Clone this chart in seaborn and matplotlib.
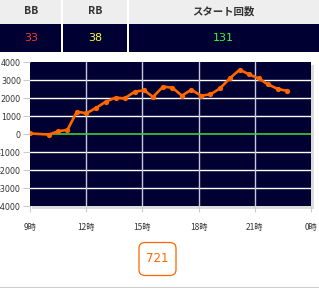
import matplotlib
matplotlib.use("Agg")
import matplotlib.pyplot as plt
import seaborn as sns
import pandas as pd
from matplotlib.patches import Rectangle, FancyBboxPatch

# ---- data ----
headers = ["BB", "RB", "スタート回数"]
header_values = ["33", "38", "131"]
value_colors = ["#ff3333", "#ffff33", "#33ff33"]
hours = [9.0, 10.0, 10.5, 11.0, 11.5, 12.0, 12.5, 13.05, 13.57, 14.05, 14.59,
         15.09, 15.57, 16.1, 16.6, 17.11, 17.61, 18.13, 18.63, 19.15, 19.66,
         20.19, 20.68, 21.2, 21.7, 22.23, 22.71]
diff = [30, -30, 150, 230, 1240, 1150, 1430, 1800, 2020, 1980, 2350,
        2430, 2060, 2630, 2570, 2130, 2460, 2130, 2200, 2540, 3090,
        3570, 3320, 3090, 2760, 2500, 2400]
xticks = [9, 12, 15, 18, 21, 24]
xtick_labels = ["9時", "12時", "15時", "18時", "21時", "0時"]
yticks = [4000, 3000, 2000, 1000, 0, -1000, -2000, -3000, -4000]
total_label = "721"

sns.set_style("white")
plt.rcParams['font.family'] = ['Noto Sans CJK JP', 'DejaVu Sans']

W, H = 319, 289
fig = plt.figure(figsize=(W / 100, H / 100), dpi=100)
fig.patch.set_facecolor("white")

def fx(x):
    return x / W

def fy(y):
    return 1 - y / H

NAVY = "#000033"

# ---- header table ----
cols = [(0, 62), (62, 128), (128, 319)]
fig.patches.append(Rectangle((0, fy(23.5)), 1, 23.5 / H, transform=fig.transFigure,
                             facecolor="#eeeeee", edgecolor="none", zorder=-2))
fig.patches.append(Rectangle((0, fy(52)), 1, 28 / H, transform=fig.transFigure,
                             facecolor=NAVY, edgecolor="none", zorder=-2))
for i, (x0, x1) in enumerate(cols):
    cx = (x0 + x1) / 2
    fig.text(fx(cx), fy(11.5), headers[i], ha="center", va="center",
             fontsize=7.5, fontweight="bold", color="#333333")
    fig.text(fx(cx), fy(38), header_values[i], ha="center", va="center",
             fontsize=8, color=value_colors[i], family=["DejaVu Sans"])
for xd in (62, 128):
    fig.patches.append(Rectangle((fx(xd - 0.7), fy(52)), 1.4 / W, 52 / H,
                                 transform=fig.transFigure, facecolor="white",
                                 edgecolor="none", zorder=-1))

# ---- chart ----
ax_l, ax_r, ax_t, ax_b = 30, 311, 62, 206
# shadow
fig.patches.append(Rectangle((fx(ax_l + 2), fy(ax_b + 2.5)), (ax_r - ax_l + 1) / W,
                             (ax_b - ax_t) / H, transform=fig.transFigure,
                             facecolor="#dddddd", edgecolor="none", zorder=-1))
ax = fig.add_axes([fx(ax_l), fy(ax_b), (ax_r - ax_l) / W, (ax_b - ax_t) / H])
ax.set_zorder(1)
ax.set_facecolor(NAVY)

df = pd.DataFrame({"hour": hours, "diff": diff})
ax.axhline(0, color="#44cc33", lw=1.2, zorder=2)
sns.lineplot(data=df, x="hour", y="diff", ax=ax, color="#ff6600", lw=1.9,
             marker="o", markersize=3.8, markeredgewidth=0, zorder=3)

ax.set_xlim(9, 24)
ax.set_ylim(-4000, 4000)
ax.set_xticks(xticks)
ax.set_xticklabels(xtick_labels)
ax.set_yticks(yticks)
ax.set_yticklabels([str(v) for v in yticks])
ax.set_xlabel("")
ax.set_ylabel("")
for yv in yticks[1:-1]:
    if yv != 0:
        ax.axhline(yv, color="white", lw=1.0, zorder=1)
for xv in xticks[1:-1]:
    ax.axvline(xv, color="#c8c8dd", lw=1.0, zorder=1)
for s in ax.spines.values():
    s.set_visible(False)
ax.tick_params(axis="y", length=5, width=0.8, color="#cccccc", labelsize=5.8,
               labelcolor="#333333", pad=1.5, direction="out", left=True)
ax.tick_params(axis="x", length=4, width=0.8, color="#cccccc", labelsize=6,
               labelcolor="#333333", pad=8, direction="out", bottom=True)
for lbl in ax.get_yticklabels():
    lbl.set_family(["DejaVu Sans"])

# ---- total box ----
box = FancyBboxPatch((fx(139), fy(275.5)), 37 / W, 33 / H,
                     boxstyle="round,pad=0,rounding_size=0.02",
                     transform=fig.transFigure, facecolor="white",
                     edgecolor="#ff6600", lw=0.9)
fig.patches.append(box)
fig.text(fx(157.5), fy(259), total_label, ha="center", va="center",
         fontsize=8.5, color="#ff6600", family=["DejaVu Sans"])

fig.patches.append(Rectangle((0, fy(288)), 1, 1.3 / H, transform=fig.transFigure,
                             facecolor="#cccccc", edgecolor="none"))

fig.savefig("out.png", dpi=100)
